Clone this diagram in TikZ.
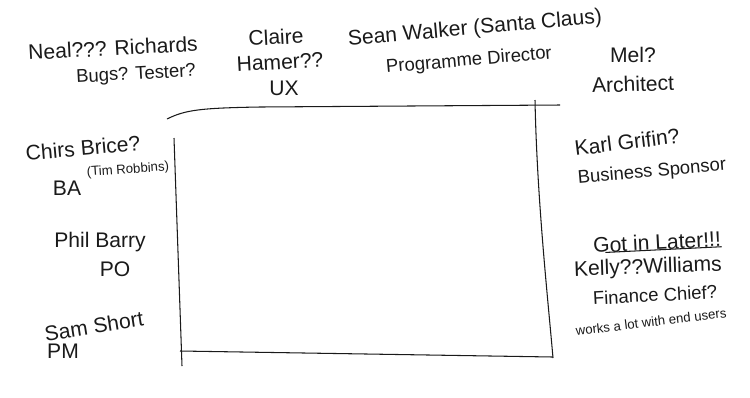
\documentclass[tikz,border=0pt]{standalone}
\usepackage{fontspec}
\setmainfont{Liberation Sans}
\usetikzlibrary{positioning}
\definecolor{ink}{HTML}{1A1A1A}
\tikzset{
  person/.style={text=ink, inner sep=0pt, font=\fontsize{12}{13}\selectfont},
  personrole/.style={text=ink, inner sep=0pt, font=\fontsize{10.5}{12}\selectfont},
  personnote/.style={text=ink, inner sep=0pt, font=\fontsize{7.5}{9}\selectfont},
  tableline/.style={draw=ink, line width=0.6pt}
}
\begin{document}
\begin{tikzpicture}[x=0.02cm, y=-0.02cm]
  \useasboundingbox (0,0) rectangle (750,397);

  % the table
  \coordinate (tl) at (167,119);
  \coordinate (tr) at (560,105);
  \coordinate (rt) at (535,100);
  \coordinate (rb) at (553,358);
  \coordinate (lt) at (174,138);
  \coordinate (lb) at (182,366);
  \coordinate (bl) at (180,351);
  \coordinate (br) at (553,357);
  \draw[tableline] (tl) .. controls (185,110) and (200,108) .. (260,107) -- (tr);
  \draw[tableline] (rt) .. controls (537,200) and (548,300) .. (rb);
  \draw[tableline] (lt) -- (lb);
  \draw[tableline] (bl) -- (br);

  % top side
  \node[person, rotate=3] (neal) at (113,48) {Neal??? Richards};
  \node[personrole, rotate=3] (nealrole) at (136,75) {Bugs? Tester?};
  \node[person, rotate=3] (claire) at (276,37) {Claire};
  \node[person, rotate=3] (hamer) at (280,62) {Hamer??};
  \node[person] (claireux) at (284,88) {UX};
  \node[person, rotate=5] (sean) at (475,29) {Sean Walker (Santa Claus)};
  \node[personrole, rotate=5] (seanrole) at (469,61) {Programme Director};
  \node[person] (mel) at (633,55) {Mel?};
  \node[person, rotate=2] (melrole) at (633,84) {Architect};

  % left side
  \node[person, rotate=5] (chris) at (83,148) {Chirs Brice?};
  \node[person] (chrisrole) at (67,188) {BA};
  \node[personnote, rotate=4] (tim) at (128,170) {(Tim Robbins)};
  \node[person] (phil) at (100,242) {Phil Barry};
  \node[person] (philrole) at (115,269) {PO};
  \node[person, rotate=9] (sam) at (94,326) {Sam Short};
  \node[person] (samrole) at (63,351) {PM};

  % right side
  \node[person, rotate=7] (karl) at (627,142) {Karl Grifin?};
  \node[personrole, rotate=5] (karlrole) at (652,172) {Business Sponsor};
  \node[person, rotate=3] (later) at (657,242) {Got in Later!!!};
  \draw[tableline] (later.south west) ++(12,-1) -- (later.south east);
  \node[person, rotate=2] (kelly) at (648,268) {Kelly??Williams};
  \node[personrole, rotate=3] (kellyrole) at (655,295) {Finance Chief?};
  \node[personnote, rotate=7] (kellynote) at (651,322) {works a lot with end users};
\end{tikzpicture}
\end{document}
